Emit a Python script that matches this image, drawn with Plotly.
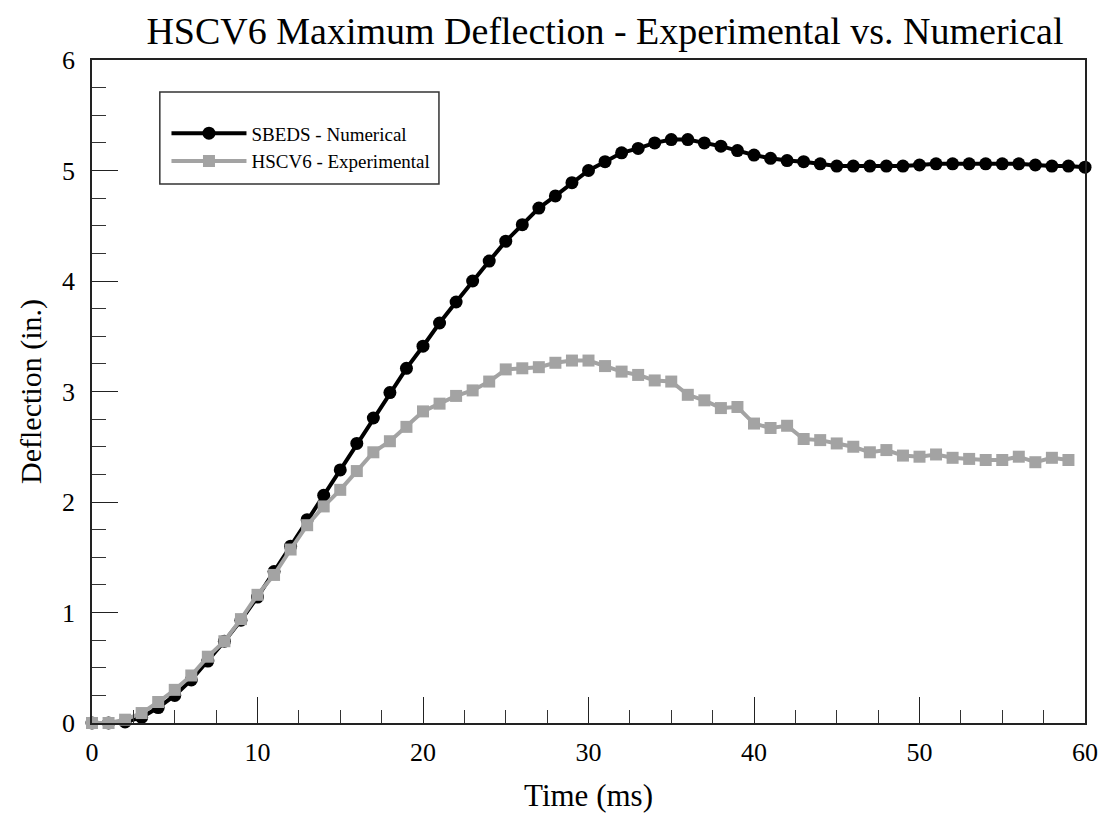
import plotly.graph_objects as go

# Time (ms)
time_num = list(range(0, 61))
time_exp = list(range(0, 60))

# SBEDS - Numerical (in.)
sbeds_numerical = [
    0.00, 0.00, 0.01, 0.05, 0.14, 0.25, 0.39, 0.56, 0.74, 0.93,
    1.14, 1.37, 1.60, 1.84, 2.06, 2.29, 2.53, 2.76, 2.99, 3.21,
    3.41, 3.62, 3.81, 4.00, 4.18, 4.36, 4.51, 4.66, 4.77, 4.89,
    5.00, 5.08, 5.16, 5.20, 5.25, 5.28, 5.28, 5.25, 5.22, 5.18,
    5.14, 5.11, 5.09, 5.08, 5.06, 5.04, 5.04, 5.04, 5.04, 5.04,
    5.05, 5.06, 5.06, 5.06, 5.06, 5.06, 5.06, 5.05, 5.04, 5.04,
    5.03,
]

# HSCV6 - Experimental (in.)
hscv6_experimental = [
    0.00, 0.00, 0.03, 0.09, 0.19, 0.30, 0.43, 0.60, 0.74, 0.94,
    1.16, 1.34, 1.57, 1.79, 1.96, 2.11, 2.28, 2.45, 2.55, 2.68,
    2.82, 2.89, 2.96, 3.01, 3.09, 3.20, 3.21, 3.22, 3.26, 3.28,
    3.28, 3.23, 3.18, 3.15, 3.10, 3.09, 2.97, 2.92, 2.85, 2.86,
    2.71, 2.67, 2.69, 2.57, 2.56, 2.53, 2.50, 2.45, 2.47, 2.42,
    2.41, 2.43, 2.40, 2.39, 2.38, 2.38, 2.41, 2.36, 2.40, 2.38,
]

x_ticks = [0, 10, 20, 30, 40, 50, 60]
y_ticks = [0, 1, 2, 3, 4, 5, 6]

SERIF = "Liberation Serif, Times New Roman, serif"
GRAY = "#a3a3a3"

fig = go.Figure()
fig.add_trace(go.Scatter(
    x=time_num, y=sbeds_numerical, name="SBEDS - Numerical",
    mode="lines+markers", cliponaxis=False,
    line=dict(color="black", width=4),
    marker=dict(symbol="circle", size=13, color="black"),
))
fig.add_trace(go.Scatter(
    x=time_exp, y=hscv6_experimental, name="HSCV6 - Experimental",
    mode="lines+markers", cliponaxis=False,
    line=dict(color=GRAY, width=4),
    marker=dict(symbol="square", size=12, color=GRAY),
))

axis_common = dict(
    showline=True, linecolor="#222222", linewidth=1.5, mirror=True,
    showgrid=False, zeroline=False,
    ticks="inside", ticklen=26, tickwidth=1.2, tickcolor="#222222",
    tickfont=dict(family=SERIF, size=26, color="black"),
)

fig.update_xaxes(
    range=[0, 60], tickvals=x_ticks,
    minor=dict(dtick=2.5, ticks="inside", ticklen=13, tickwidth=1, tickcolor="#333333", showgrid=False),
    title=dict(text="Time (ms)", font=dict(family=SERIF, size=31, color="black"), standoff=18),
    ticklabelstandoff=5,
    **axis_common,
)
fig.update_yaxes(
    range=[0, 6], tickvals=y_ticks,
    minor=dict(dtick=0.25, ticks="inside", ticklen=14, tickwidth=1, tickcolor="#333333", showgrid=False),
    title=dict(text="Deflection (in.)", font=dict(family=SERIF, size=30, color="black"), standoff=12),
    ticklabelstandoff=10,
    **axis_common,
)

# legend frame
fig.add_shape(type="rect", xref="paper", yref="paper",
              x0=0.0683, x1=0.3494, y0=0.8128, y1=0.9517,
              line=dict(color="#333333", width=1.5), fillcolor="rgba(0,0,0,0)", layer="above")

fig.update_layout(
    width=1110, height=825,
    margin=dict(l=92, r=22, t=60, b=102),
    paper_bgcolor="white", plot_bgcolor="white",
    title=dict(text="HSCV6 Maximum Deflection - Experimental vs. Numerical",
               font=dict(family=SERIF, size=38, color="black"),
               x=0.545, xanchor="center", y=0.963, yanchor="middle"),
    legend=dict(x=0.075, y=0.918, xanchor="left", yanchor="top",
                bgcolor="rgba(0,0,0,0)", borderwidth=0,
                font=dict(family=SERIF, size=19, color="black"),
                itemwidth=75, tracegroupgap=0),
    showlegend=True,
)

fig.write_html("out.html")
